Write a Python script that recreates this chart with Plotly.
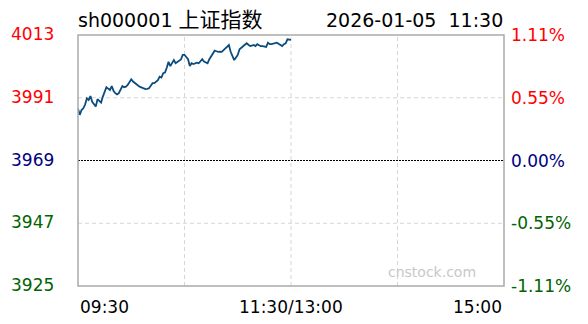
import plotly.graph_objects as go

# ---- data ----
preclose = 3969
minutes = list(range(0, 121))
prices = [
    3987.1, 3985.0, 3986.7, 3987.3, 3988.6, 3990.8, 3990.2, 3991.6, 3989.6, 3988.5,
    3987.9, 3990.5, 3989.8, 3989.3, 3991.4, 3993.0, 3994.7, 3994.2, 3993.7, 3995.1,
    3993.4, 3992.6, 3992.2, 3992.6, 3993.9, 3995.1, 3994.7, 3994.9, 3995.5, 3996.4,
    3997.5, 3996.7, 3996.1, 3995.6, 3995.2, 3994.8, 3994.5, 3994.2, 3994.0, 3994.1,
    3994.3, 3995.2, 3996.1, 3996.1, 3996.5, 3997.2, 3998.4, 3998.1, 3999.6, 3999.8,
    4001.5, 4003.6, 4002.1, 4003.3, 4004.2, 4003.1, 4003.5, 4004.0, 4004.4, 4006.0,
    4006.0, 4005.3, 4004.5, 4002.1, 4003.1, 4002.8, 4003.0, 4003.3, 4003.1, 4003.8,
    4004.5, 4003.7, 4003.4, 4003.1, 4004.5, 4005.5, 4006.6, 4007.5, 4007.3, 4007.1,
    4007.2, 4007.1, 4007.7, 4008.3, 4008.9, 4009.5, 4007.1, 4005.6, 4004.2, 4005.1,
    4006.0, 4008.0, 4008.5, 4008.9, 4009.5, 4010.1, 4009.6, 4009.1, 4009.3, 4009.5,
    4009.1, 4009.8, 4009.4, 4009.1, 4009.1, 4009.0, 4008.8, 4010.3, 4009.8, 4009.8,
    4010.0, 4010.1, 4010.3, 4009.9, 4009.5, 4009.1, 4009.8, 4010.1, 4011.5, 4011.5,
    4011.3,
]
price_ticks = [4013, 3991, 3969, 3947, 3925]
pct_labels = ["1.11%", "0.55%", "0.00%", "-0.55%", "-1.11%"]
tick_colors = ["#ff0000", "#ff0000", "#000080", "#006400", "#006400"]
time_ticks = [0, 120, 240]
time_labels = ["09:30", "11:30/13:00", "15:00"]
time_anchors = ["left", "center", "right"]
grid_x = [60, 120, 180]
title_code = "sh000001"
title_name = "上证指数"
title_right = "2026-01-05  11:30"
watermark = "cnstock.com"

FONT = "DejaVu Sans, Verdana, Noto Sans CJK SC, sans-serif"

fig = go.Figure()
fig.add_trace(go.Scatter(
    x=minutes, y=prices, mode="lines",
    line=dict(color="#0b4c7e", width=1.8),
    hoverinfo="skip", showlegend=False,
))

shapes = []
for gx in grid_x:
    shapes.append(dict(type="line", xref="x", yref="paper", x0=gx, x1=gx, y0=0, y1=1,
                       line=dict(color="#d6d6d6", width=1, dash="4px,3px"), layer="below"))
for v in price_ticks[1:-1]:
    if v == preclose:
        shapes.append(dict(type="line", xref="paper", yref="y", x0=0, x1=1, y0=v, y1=v,
                           line=dict(color="#000000", width=1, dash="2px,1px"), layer="below"))
    else:
        shapes.append(dict(type="line", xref="paper", yref="y", x0=0, x1=1, y0=v, y1=v,
                           line=dict(color="#d6d6d6", width=1, dash="4px,3px"), layer="below"))
shapes.append(dict(type="rect", xref="paper", yref="paper", x0=0, x1=1, y0=0, y1=1,
                   line=dict(color="#aaaaaa", width=1.5)))

ann = []
for v, p, c in zip(price_ticks, pct_labels, tick_colors):
    ann.append(dict(x=0, y=v, xref="paper", yref="y", text=str(v), showarrow=False,
                    xanchor="right", yanchor="middle", xshift=-22, yshift=1,
                    font=dict(family=FONT, size=17, color=c)))
    ann.append(dict(x=1, y=v, xref="paper", yref="y", text=p, showarrow=False,
                    xanchor="left", yanchor="middle", xshift=5, yshift=0,
                    font=dict(family=FONT, size=17, color=c)))
for t, lab, a in zip(time_ticks, time_labels, time_anchors):
    ann.append(dict(x=t, y=0, xref="x", yref="paper", text=lab, showarrow=False,
                    xanchor=a, yanchor="top", yshift=-9,
                    font=dict(family=FONT, size=17, color="#000000")))
ann.append(dict(x=0, y=1, xref="paper", yref="paper",
                text=title_code + " <span style='font-size:21px'>" + title_name + "</span>",
                showarrow=False, xanchor="left", yanchor="bottom", yshift=1, xshift=-2,
                font=dict(family=FONT, size=19, color="#000000")))
ann.append(dict(x=1, y=1, xref="paper", yref="paper", text=title_right, showarrow=False,
                xanchor="right", yanchor="bottom", yshift=2, xshift=1,
                font=dict(family=FONT, size=19, color="#000000")))
ann.append(dict(x=0.94, y=0, xref="paper", yref="paper", text=watermark, showarrow=False,
                xanchor="right", yanchor="bottom", yshift=4,
                font=dict(family=FONT, size=14, color="#c8c8c8")))

fig.update_layout(
    width=588, height=324,
    margin=dict(l=78, r=84, t=35, b=38),
    paper_bgcolor="white", plot_bgcolor="white",
    xaxis=dict(range=[0, 240], showgrid=False, zeroline=False, showticklabels=False,
               fixedrange=True),
    yaxis=dict(range=[price_ticks[-1], price_ticks[0]], showgrid=False, zeroline=False,
               showticklabels=False, fixedrange=True),
    shapes=shapes, annotations=ann, showlegend=False,
)
fig.write_html("out.html")
